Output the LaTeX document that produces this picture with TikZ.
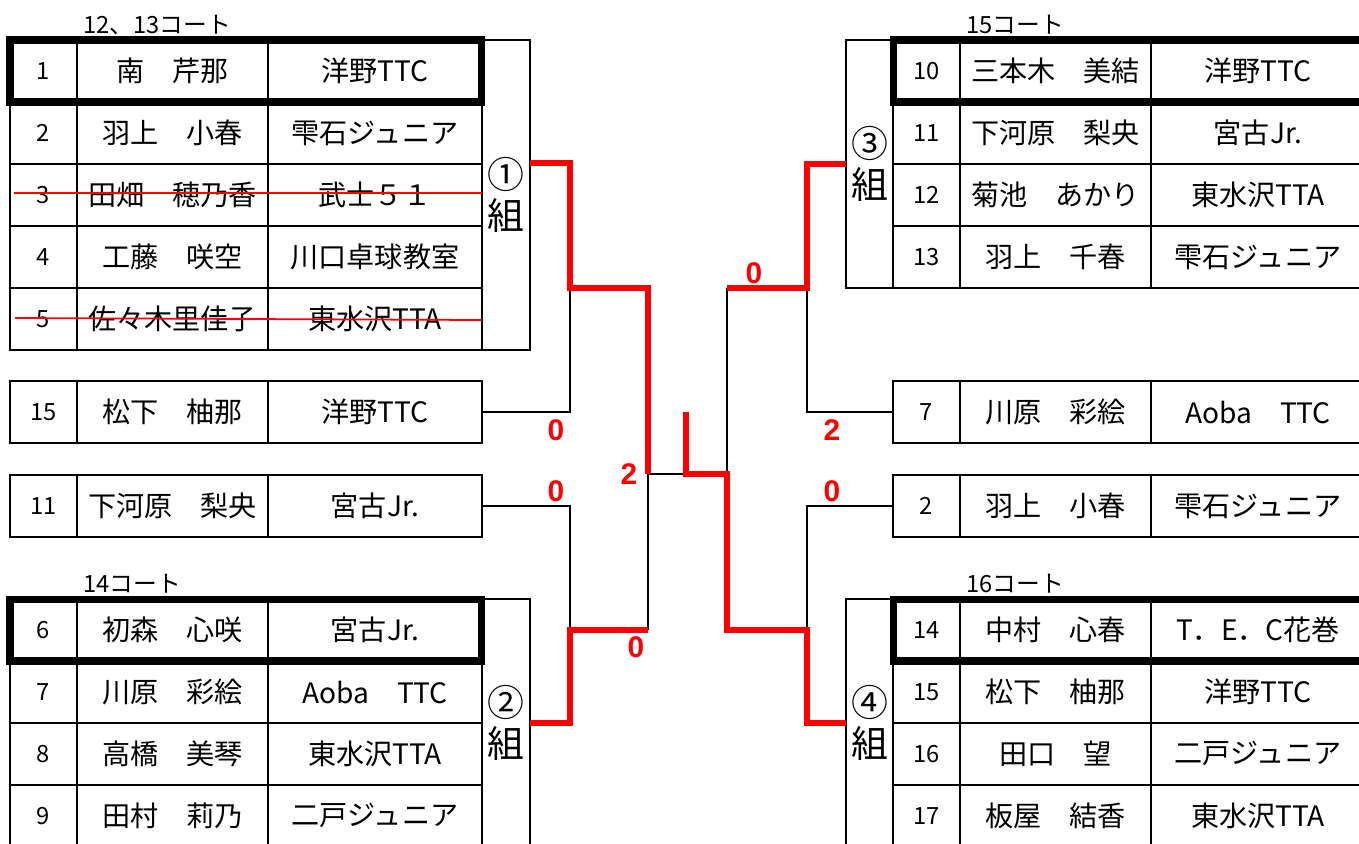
\documentclass[tikz,border=0pt]{standalone}
\usepackage{fontspec}
\setmainfont{Noto Sans CJK JP}
\newfontfamily\scorefont{Liberation Sans}
\usepackage{xcolor}
\usepackage{tikz}
\usetikzlibrary{calc}

\newcommand{\numfont}{\fontsize{13.5}{14}\selectfont}
\newcommand{\namefont}{\fontsize{16}{17}\selectfont}
\newcommand{\grpfont}{\fontsize{21}{23}\selectfont}

\tikzset{
  cell/.style={draw, line width=1.5pt, inner sep=0pt, outer sep=0pt, minimum height=1.24cm, font=\namefont},
  numcell/.style={cell, minimum width=1.34cm, font=\numfont},
  namecell/.style={cell, minimum width=3.82cm},
  teamcell/.style={cell, minimum width=4.28cm},
  grpbox/.style={draw, line width=1.5pt, inner sep=0pt, outer sep=0pt, align=center, font=\grpfont},
  seed/.style={line width=4pt},
  court/.style={font=\numfont, inner sep=0pt},
  lose/.style={line width=1.5pt},
  win/.style={red, line width=3.8pt},
  strike/.style={red, line width=1pt},
  score/.style={red, font=\scorefont\bfseries\fontsize{17}{17}\selectfont},
}

% one row of the draw: prefix, centre of number cell, number, player, club
\newcommand{\prow}[5]{%
  \node[numcell] (#1n) at (#2) {#3};
  \node[namecell, anchor=west] (#1m) at (#1n.east) {#4};
  \node[teamcell, anchor=west] (#1t) at (#1m.east) {#5};
}

\begin{document}
\begin{tikzpicture}[x=0.02cm, y=-0.02cm]
    \useasboundingbox (0,0) rectangle (1359,843);

    % courts
    \node[court, anchor=base west] (c1) at (83,33) {12、13コート};
    \node[court, anchor=base west] (c2) at (83,592) {14コート};
    \node[court, anchor=base west] (c3) at (966,33) {15コート};
    \node[court, anchor=base west] (c4) at (966,592) {16コート};

    % left side
    \prow{p1}{43.5,71}{1}{南　芹那}{洋野TTC}
    \prow{p2}{43.5,133}{2}{羽上　小春}{雫石ジュニア}
    \prow{p3}{43.5,195}{3}{田畑　穂乃香}{武士５１}
    \prow{p4}{43.5,257}{4}{工藤　咲空}{川口卓球教室}
    \prow{p5}{43.5,319}{5}{佐々木里佳子}{東水沢TTA}
    \prow{s15}{43.5,412}{15}{松下　柚那}{洋野TTC}
    \prow{s11}{43.5,506}{11}{下河原　梨央}{宮古Jr.}
    \prow{p6}{43.5,630}{6}{初森　心咲}{宮古Jr.}
    \prow{p7}{43.5,692}{7}{川原　彩絵}{Aoba　TTC}
    \prow{p8}{43.5,754}{8}{高橋　美琴}{東水沢TTA}
    \prow{p9}{43.5,816}{9}{田村　莉乃}{二戸ジュニア}

    % right side
    \prow{q10}{926.5,71}{10}{三本木　美結}{洋野TTC}
    \prow{q11}{926.5,133}{11}{下河原　梨央}{宮古Jr.}
    \prow{q12}{926.5,195}{12}{菊池　あかり}{東水沢TTA}
    \prow{q13}{926.5,257}{13}{羽上　千春}{雫石ジュニア}
    \prow{r7}{926.5,412}{7}{川原　彩絵}{Aoba　TTC}
    \prow{r2}{926.5,506}{2}{羽上　小春}{雫石ジュニア}
    \prow{q14}{926.5,630}{14}{中村　心春}{T．E．C花巻}
    \prow{q15}{926.5,692}{15}{松下　柚那}{洋野TTC}
    \prow{q16}{926.5,754}{16}{田口　望}{二戸ジュニア}
    \prow{q17}{926.5,816}{17}{板屋　結香}{東水沢TTA}

    % groups
    \node[grpbox, minimum width=0.96cm, minimum height=6.2cm] (g1) at (506,195) {①\\組};
    \node[grpbox, minimum width=0.96cm, minimum height=4.96cm] (g2) at (506,723) {②\\組};
    \node[grpbox, minimum width=0.94cm, minimum height=4.96cm] (g3) at (869.5,164) {③\\組};
    \node[grpbox, minimum width=0.94cm, minimum height=4.96cm] (g4) at (869.5,723) {④\\組};

    % seeds
    \draw[seed] (p1n.north west) rectangle (p1t.south east);
    \draw[seed] (p6n.north west) rectangle (p6t.south east);
    \draw[seed] (q10n.north west) rectangle (q10t.south east);
    \draw[seed] (q14n.north west) rectangle (q14t.south east);

    % withdrawn
    \draw[strike] ([shift={(0.08cm,0.04cm)}]p3n.west) -- ([yshift=0.04cm]p3t.east);
    \draw[strike] ([shift={(0.1cm,0.02cm)}]p5n.west) -- ([yshift=-0.02cm]p5t.east);

    \coordinate (qa) at (570,288);
    \coordinate (qb) at (570,630);
    \coordinate (sfL) at (648,474);
    \coordinate (fin) at (686,474);
    \coordinate (finTop) at (686,412);
    \coordinate (sfR) at (727,474);
    \coordinate (qc) at (807,288);
    \coordinate (qd) at (807,630);

    \draw[lose] (s15t.east) -| (qa);
    \draw[lose] (s11t.east) -| (qb);
    \draw[lose] (qb -| sfL) -- (sfL) -- (fin);
    \draw[lose] (qc -| sfR) -- (sfR);
    \draw[lose] (r7n.west) -| (qc);
    \draw[lose] (r2n.west) -| (qd);

    % winners
    \draw[win] ([yshift=0.64cm]g1.east) -| (qa) -| (sfL);
    \draw[win] (g2.east) -| (qb) -- (qb -| sfL);
    \draw[win] (g3.west) -| (qc) -- (qc -| sfR);
    \draw[win] (finTop) -- (fin) -- (sfR) |- (qd) |- (g4.west);

    \node[score] (sc1) at (556,430) {0};
    \node[score] (sc2) at (556,491) {0};
    \node[score] (sc3) at (629,474) {2};
    \node[score] (sc4) at (636,647) {0};
    \node[score] (sc5) at (754,273) {0};
    \node[score] (sc6) at (832,430) {2};
    \node[score] (sc7) at (832,491) {0};
\end{tikzpicture}
\end{document}
